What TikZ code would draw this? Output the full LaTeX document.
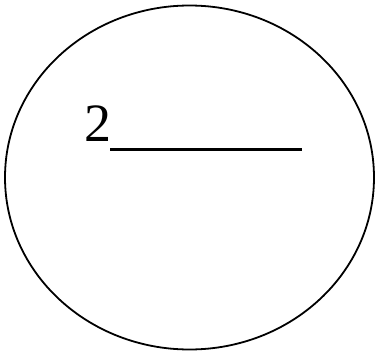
\documentclass[tikz,border=0pt]{standalone}
\usepackage{fontspec}
\setmainfont{Liberation Serif}
\usetikzlibrary{shapes.geometric}
\tikzset{
  outline/.style={ellipse,draw,line width=1.8pt,minimum width=369pt,minimum height=344pt,inner sep=0pt},
  numlabel/.style={inner sep=0pt,anchor=base west,font=\fontsize{54}{54}\selectfont},
  blank/.style={line width=3pt}
}

\begin{document}
\begin{tikzpicture}[x=1pt,y=-1pt]
\useasboundingbox (0,0) rectangle (378,356);
\node[outline] (E) at (189.5,177.5) {};

\node[numlabel] (N) at (84,141) {2};
\coordinate (L) at (110,149);
\coordinate (R) at (302,149);

\draw[blank] (L)--(R);
\end{tikzpicture}
\end{document}
